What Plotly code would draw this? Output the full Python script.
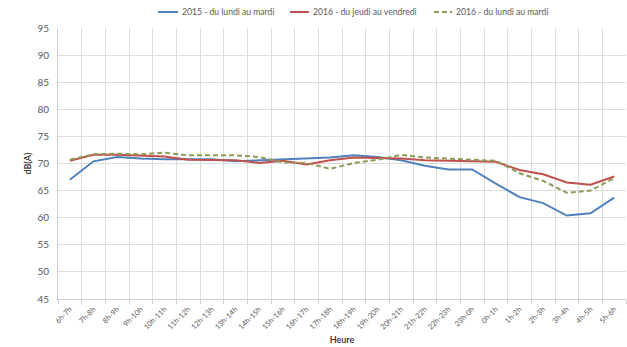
import plotly.graph_objects as go

categories = ["6h-7h", "7h-8h", "8h-9h", "9h-10h", "10h-11h", "11h-12h", "12h-13h",
              "13h-14h", "14h-15h", "15h-16h", "16h-17h", "17h-18h", "18h-19h",
              "19h-20h", "20h-21h", "21h-22h", "22h-23h", "23h-0h", "0h-1h", "1h-2h",
              "2h-3h", "3h-4h", "4h-5h", "5h-6h"]

s2015_lun_mar = [67.0, 70.4, 71.2, 70.9, 70.8, 70.8, 70.8, 70.4, 70.6, 70.7, 70.9, 71.1,
                 71.5, 71.2, 70.6, 69.6, 68.9, 68.9, 66.3, 63.8, 62.7, 60.4, 60.8, 63.7]
s2016_jeu_ven = [70.5, 71.6, 71.6, 71.4, 71.3, 70.7, 70.7, 70.6, 70.1, 70.5, 69.8, 70.6,
                 71.1, 71.0, 70.9, 70.6, 70.5, 70.4, 70.3, 68.8, 68.0, 66.5, 66.1, 67.6]
s2016_lun_mar = [70.7, 71.7, 71.8, 71.7, 72.0, 71.5, 71.5, 71.5, 71.2, 70.2, 70.1, 69.0,
                 70.1, 70.7, 71.6, 71.1, 70.9, 70.7, 70.5, 68.2, 66.8, 64.6, 65.0, 67.3]

series_names = ["2015 - du lundi au mardi", "2016 - du jeudi au vendredi",
                "2016 - du lundi au mardi"]

y_ticks = [45, 50, 55, 60, 65, 70, 75, 80, 85, 90, 95]

FONT = "Lato"
W, H = 627, 347
ML, MR, MT, MB = 58, 1, 28, 48
PW = W - ML - MR
colors = ["#4F81BD", "#C0504D", "#8E9A55"]
dashes = ["solid", "solid", "5px,3px"]

fig = go.Figure()
for name, vals, c, d in zip(series_names, [s2015_lun_mar, s2016_jeu_ven, s2016_lun_mar],
                            colors, dashes):
    fig.add_trace(go.Scatter(x=categories, y=vals, mode="lines", name=name,
                             line=dict(color=c, width=2, dash=d), showlegend=False))

# custom legend (pixel positions converted to paper coords)
legend_line_px = [(158, 178), (290, 309), (434, 452)]
legend_y = 1 + (MT - 12) / (H - MT - MB)
for (x0, x1), name, c, d in zip(legend_line_px, series_names, colors, dashes):
    fig.add_shape(type="line", xref="paper", yref="paper",
                  x0=(x0 - ML) / PW, x1=(x1 - ML) / PW, y0=legend_y, y1=legend_y,
                  line=dict(color=c, width=2, dash=d))
    fig.add_annotation(xref="paper", yref="paper", x=(x1 + 2 - ML) / PW, y=legend_y,
                       xanchor="left", yanchor="middle", showarrow=False, text=name,
                       font=dict(family=FONT, size=8.6, color="#595959"))

fig.update_layout(
    width=W, height=H,
    margin=dict(l=ML, r=MR, t=MT, b=MB, autoexpand=False),
    paper_bgcolor="white", plot_bgcolor="white",
    font=dict(family=FONT, size=9, color="#595959"),
    xaxis=dict(type="category", tickson="boundaries", showgrid=True, gridcolor="#DDDDDD",
               gridwidth=1, showline=True, linecolor="#CFCFCF", ticks="outside",
               ticklen=4, tickcolor="#CFCFCF", tickangle=-45, automargin=False,
               ticklabelstandoff=2,
               tickfont=dict(size=7.5, color="#595959"),
               title=dict(text="<b>Heure</b>", font=dict(size=9, color="#404040"), standoff=6),
               range=[-0.5, 23.5]),
    yaxis=dict(range=[45, 95], tickvals=y_ticks, showgrid=True, gridcolor="#DDDDDD",
               gridwidth=1, showline=True, linecolor="#CFCFCF", zeroline=False,
               ticks="", automargin=False, ticklabelstandoff=6,
               tickfont=dict(size=10, color="#595959"),
               title=dict(text="<b>dB(A)</b>", font=dict(size=9, color="#404040"), standoff=4)),
)

fig.write_html("out.html", config={"displayModeBar": False},
               post_script="document.body.style.margin='0';")
